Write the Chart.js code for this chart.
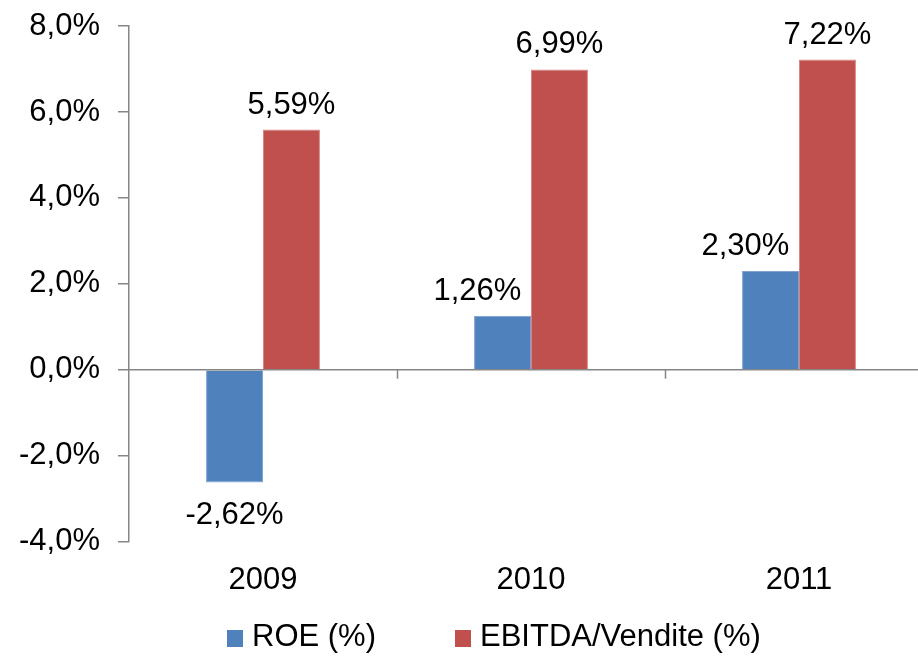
<!DOCTYPE html>
<html lang="it">
<head>
    <meta charset="UTF-8">
    <title>ROE e EBITDA/Vendite 2009-2011</title>
    <style>
        body { margin: 0; overflow: hidden; background: #fff; font-family: "Liberation Sans", Arial, sans-serif; }
        #wrap { position: relative; width: 933px; height: 656px; }
        #legend { position: absolute; left: 0; top: 618px; width: 918px; height: 36px; }
        .item { position: absolute; top: 0; font-size: 31px; line-height: 36px; color: #000; white-space: nowrap; }
        .item span { display: inline-block; width: 16px; height: 17px; margin-right: 9px; vertical-align: -1px; }
    </style>
</head>
<body>
    <div id="wrap">
        <canvas id="myChart"></canvas>
        <div id="legend">
            <div class="item" style="left: 227px;"><span style="background:#4F81BD"></span>ROE (%)</div>
            <div class="item" style="left: 455px;"><span style="background:#C0504D"></span>EBITDA/Vendite (%)</div>
        </div>
    </div>

    <script src="https://cdn.jsdelivr.net/npm/chart.js"></script>
    <script>
        // dati
        const anni = ['2009', '2010', '2011'];
        const roe = [-2.62, 1.26, 2.30];
        const ebitdaVendite = [5.59, 6.99, 7.22];
        const yMin = -4, yMax = 8, yStep = 2;

        const axisGray = '#868686';
        const fontFam = '"Liberation Sans", Arial, sans-serif';

        function fmt(v, dec) {
            return v.toFixed(dec).replace('.', ',') + '%';
        }

        // linea dello zero e tacche tra le categorie
        const zeroAxis = {
            id: 'zeroAxis',
            afterDatasetsDraw(chart) {
                const { ctx, chartArea, scales } = chart;
                const y0 = scales.y.getPixelForValue(0);
                ctx.save();
                ctx.strokeStyle = axisGray;
                ctx.lineWidth = 1.5;
                ctx.beginPath();
                ctx.moveTo(chartArea.left, y0);
                ctx.lineTo(chartArea.right, y0);
                for (let i = 0; i < anni.length - 1; i++) {
                    const px = Math.round((scales.x.getPixelForValue(i) + scales.x.getPixelForValue(i + 1)) / 2) + 0.5;
                    ctx.moveTo(px, y0);
                    ctx.lineTo(px, y0 + 9);
                }
                ctx.stroke();
                ctx.restore();
            }
        };

        // etichette dei valori
        const valueLabels = {
            id: 'valueLabels',
            afterDatasetsDraw(chart) {
                const ctx = chart.ctx;
                ctx.save();
                ctx.font = '31px ' + fontFam;
                ctx.fillStyle = '#000';
                ctx.textAlign = 'center';
                ctx.textBaseline = 'alphabetic';
                chart.data.datasets.forEach((ds, di) => {
                    chart.getDatasetMeta(di).data.forEach((bar, i) => {
                        const v = ds.data[i];
                        let x = bar.x;
                        let y;
                        if (v >= 0) {
                            y = bar.y - 16;
                            if (di === 0) x = bar.x - bar.width * 0.44;
                        } else {
                            y = bar.y + 42;
                        }
                        ctx.fillText(fmt(v, 2), x, y);
                    });
                });
                ctx.restore();
            }
        };

        const ctx = document.getElementById('myChart').getContext('2d');
        new Chart(ctx, {
            type: 'bar',
            data: {
                labels: anni,
                datasets: [
                    { label: 'ROE (%)', data: roe, backgroundColor: '#4F81BD', borderColor: '#7FA3D1', borderWidth: 1 },
                    { label: 'EBITDA/Vendite (%)', data: ebitdaVendite, backgroundColor: '#C0504D', borderColor: '#D58684', borderWidth: 1 }
                ]
            },
            options: {
                responsive: true,
                maintainAspectRatio: false,
                animation: false,
                layout: { padding: { left: 0, right: 0, top: 0, bottom: 45 } },
                datasets: { bar: { categoryPercentage: 0.425, barPercentage: 1 } },
                plugins: {
                    legend: { display: false },
                    tooltip: { enabled: false }
                },
                scales: {
                    x: {
                        grid: { display: false },
                        border: { display: false },
                        ticks: {
                            color: '#000',
                            padding: 12,
                            font: { family: fontFam, size: 31 }
                        }
                    },
                    y: {
                        min: yMin,
                        max: yMax,
                        afterFit(scale) {
                            scale.width = 129;
                            scale.paddingTop = 26;
                            scale.paddingBottom = 0;
                        },
                        grid: { drawOnChartArea: false, tickColor: axisGray, tickLength: 11, lineWidth: 1.5 },
                        border: { color: axisGray, width: 1.5 },
                        ticks: {
                            stepSize: yStep,
                            color: '#000',
                            padding: 18,
                            font: { family: fontFam, size: 31 },
                            callback: v => fmt(v, 1)
                        }
                    }
                }
            },
            plugins: [zeroAxis, valueLabels]
        });
    </script>
</body>
</html>
